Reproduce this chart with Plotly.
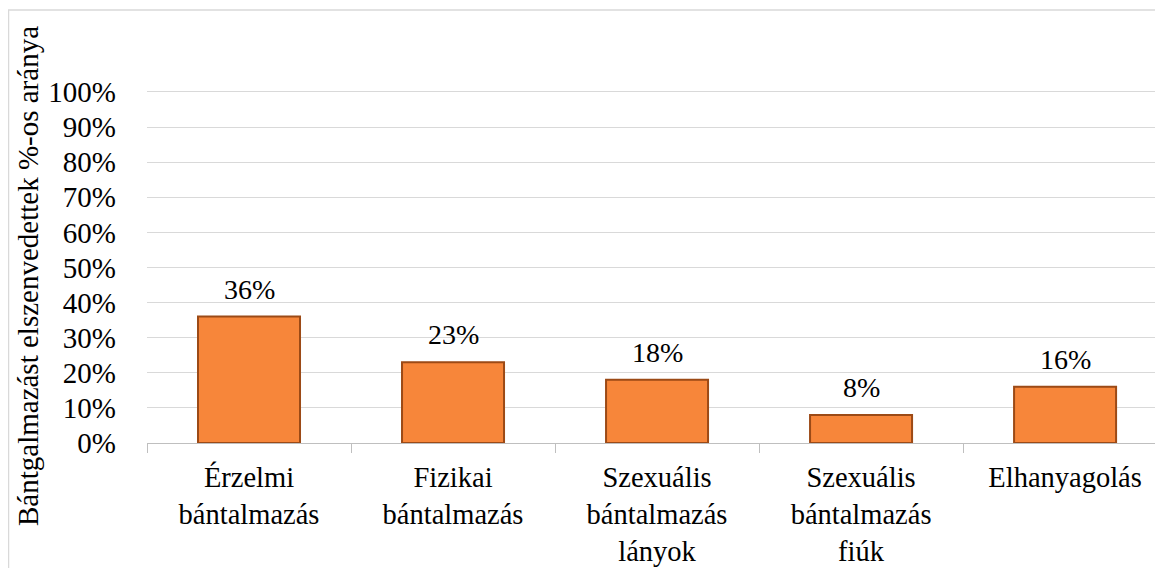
import plotly.graph_objects as go

categories = ["Érzelmi<br>bántalmazás", "Fizikai<br>bántalmazás",
              "Szexuális<br>bántalmazás<br>lányok", "Szexuális<br>bántalmazás<br>fiúk",
              "Elhanyagolás"]
values = [0.36, 0.23, 0.18, 0.08, 0.16]
labels = ["36%", "23%", "18%", "8%", "16%"]
y_ticks = [i / 10 for i in range(11)]
y_ticktext = [f"{i*10}%" for i in range(11)]
y_title = "Bántgalmazást elszenvedettek %-os aránya"

FONT = "Liberation Serif"

# page is offset by 8px body margin
OFF = 8
W, H = 1163 - OFF, 568 - OFF
L, R, T = 147 - OFF, 0, 27 - OFF
B = H - (443 - OFF)
pw = W - L - R
ph = H - T - B

fig = go.Figure()
fig.add_trace(go.Bar(
    x=categories, y=values,
    width=0.5,
    marker=dict(color="#F7863A", line=dict(color="#9C4A16", width=2)),
    hoverinfo="x+y",
))
for c, v, t in zip(categories, values, labels):
    fig.add_annotation(x=c, y=v, text=t, showarrow=False, yanchor="bottom",
                       yshift=10, font=dict(family=FONT, size=28, color="black"))

fig.update_layout(
    width=W, height=H,
    margin=dict(l=L, r=R, t=T, b=B, autoexpand=False),
    paper_bgcolor="white", plot_bgcolor="white",
    font=dict(family=FONT, size=28, color="black"),
    showlegend=False,
)
fig.update_xaxes(
    range=[-0.5, 4.48], tickson="boundaries", ticks="outside", ticklen=9,
    tickcolor="#BFBFBF", showline=True, linecolor="#BFBFBF", linewidth=1,
    showgrid=False, ticklabelstandoff=9,
    tickfont=dict(family=FONT, size=28.5, color="black"),
)
fig.update_yaxes(
    range=[0, 1.185], tickvals=y_ticks, ticktext=y_ticktext,
    showgrid=True, gridcolor="#D9D9D9", gridwidth=1.3, zeroline=False,
    showline=False, ticks="", ticklabelstandoff=30,
    tickfont=dict(family=FONT, size=29, color="black"),
)
fig.add_annotation(
    text=y_title, textangle=-90, xref="paper", yref="paper",
    x=(28 - OFF - L) / pw, y=(443 - 276) / ph, xanchor="center", yanchor="middle",
    showarrow=False, font=dict(family=FONT, size=29, color="black"),
)
# outer chart border
fig.add_shape(type="rect", xref="paper", yref="paper",
              x0=(0.5 - L) / pw, x1=(W + 5 - L) / pw,
              y0=-(B + 5) / ph, y1=(443 - 10) / ph,
              line=dict(color="#D9D9D9", width=1.5), layer="below")

fig.write_html("out.html")
